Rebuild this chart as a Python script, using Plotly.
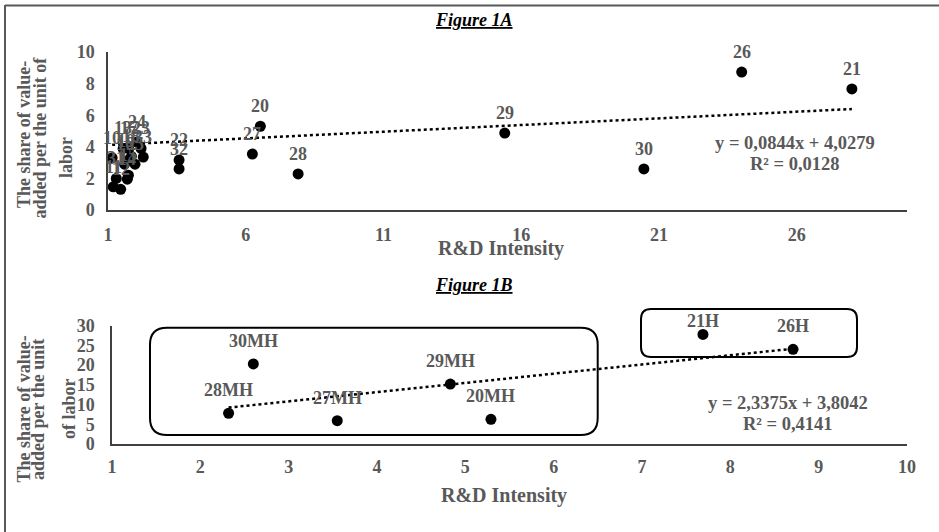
import plotly.graph_objects as go

# ---------------- Data: Figure 1A ----------------
labels_a = ["10", "11", "12", "13", "14", "15", "16", "17", "18", "19", "23", "24", "25", "31", "33",
            "20", "21", "22", "26", "27", "28", "29", "30", "32"]
rd_a = [1.15, 1.19, 1.46, 1.55, 1.70, 1.74, 1.60, 1.75, 1.85, 1.65, 2.20, 2.05, 1.98, 1.30, 2.28,
        6.53, 28.0, 3.58, 24.0, 6.24, 7.90, 15.4, 20.45, 3.58]
va_a = [3.30, 1.47, 1.31, 3.90, 1.95, 2.20, 2.90, 3.90, 3.40, 3.10, 3.90, 4.30, 2.90, 2.00, 3.35,
        5.30, 7.66, 3.16, 8.73, 3.54, 2.28, 4.87, 2.60, 2.60]
slope_a, intercept_a, r2_a = 0.0844, 4.0279, 0.0128

# ---------------- Data: Figure 1B ----------------
labels_b = ["30MH", "28MH", "27MH", "29MH", "20MH", "21H", "26H"]
rd_b = [2.60, 2.32, 3.55, 4.83, 5.29, 7.69, 8.71]
va_b = [20.3, 7.8, 5.9, 15.2, 6.25, 27.8, 24.0]
slope_b, intercept_b, r2_b = 2.3375, 3.8042, 0.4141

xticks_a = [1, 6, 11, 16, 21, 26]
yticks_a = [0, 2, 4, 6, 8, 10]
xticks_b = [1, 2, 3, 4, 5, 6, 7, 8, 9, 10]
yticks_b = [0, 5, 10, 15, 20, 25, 30]

W, H = 939, 532
FONT = "Liberation Serif"
GRAY = "#595959"


def px(x):
    return x / W


def py(y):
    return 1 - y / H


def fmt(v):
    return f"{v:.4f}".replace(".", ",")


fig = go.Figure()

# trendlines
xa = [min(rd_a), max(rd_a)]
fig.add_trace(go.Scatter(x=xa, y=[slope_a * v + intercept_a for v in xa], mode="lines",
                         line=dict(color="black", width=2.5, dash="dot"),
                         xaxis="x", yaxis="y", hoverinfo="skip"))
xb = [min(rd_b), max(rd_b)]
fig.add_trace(go.Scatter(x=xb, y=[slope_b * v + intercept_b for v in xb], mode="lines",
                         line=dict(color="black", width=2.5, dash="dot"),
                         xaxis="x2", yaxis="y2", hoverinfo="skip"))

# points
fig.add_trace(go.Scatter(x=rd_a, y=va_a, mode="markers", marker=dict(color="black", size=11),
                         xaxis="x", yaxis="y"))
fig.add_trace(go.Scatter(x=rd_b, y=va_b, mode="markers", marker=dict(color="black", size=11),
                         xaxis="x2", yaxis="y2"))

annotations = []
lab_font = dict(family=FONT, size=18, color=GRAY)
for lab, x, y in zip(labels_a, rd_a, va_a):
    annotations.append(dict(x=x, y=y, xref="x", yref="y", text=f"<b>{lab}</b>", showarrow=False,
                            xanchor="center", yanchor="middle", yshift=20, font=lab_font))
for lab, x, y in zip(labels_b, rd_b, va_b):
    annotations.append(dict(x=x, y=y, xref="x2", yref="y2", text=f"<b>{lab}</b>", showarrow=False,
                            xanchor="center", yanchor="middle",
                            yshift=13 if lab == "21H" else 23, font=lab_font))


def paper_text(xx, yy, text, font, angle=0):
    return dict(x=px(xx), y=py(yy), xref="paper", yref="paper", showarrow=False, text=text,
                font=font, xanchor="center", yanchor="middle", textangle=angle)


# titles
title_font = dict(family=FONT, size=18, color="black")
annotations.append(paper_text(474, 20, "<b><i><u>Figure 1A</u></i></b>", title_font))
annotations.append(paper_text(474, 285, "<b><i><u>Figure 1B</u></i></b>", title_font))

# axis titles
ax_font = dict(family=FONT, size=20, color=GRAY)
annotations.append(paper_text(501, 248, "<b>R&D Intensity</b>", ax_font))
annotations.append(paper_text(504, 495, "<b>R&D Intensity</b>", ax_font))
ytitle_font = dict(family=FONT, size=18, color=GRAY)
for txt, xx, yy in [("The share of value-", 24, 135), ("added per the unit of", 39.5, 138), ("labor", 66, 158),
                    ("The share of value-", 23.5, 409), ("added per the unit", 38, 410), ("of labor", 69, 409)]:
    annotations.append(paper_text(xx, yy, f"<b>{txt}</b>", ytitle_font, angle=-90))

# equations
eq_font = dict(family=FONT, size=18.5, color=GRAY)
annotations.append(paper_text(795, 143, f"<b>y = {fmt(slope_a)}x + {fmt(intercept_a)}</b>", eq_font))
annotations.append(paper_text(795, 164, f"<b>R² = {fmt(r2_a)}</b>", eq_font))
annotations.append(paper_text(788, 403, f"<b>y = {fmt(slope_b)}x + {fmt(intercept_b)}</b>", eq_font))
annotations.append(paper_text(788, 424, f"<b>R² = {fmt(r2_b)}</b>", eq_font))


def rounded_rect(l, t, r, b, rad):
    pts = [
        ("M", [(l + rad, t)]),
        ("L", [(r - rad, t)]),
        ("Q", [(r, t), (r, t + rad)]),
        ("L", [(r, b - rad)]),
        ("Q", [(r, b), (r - rad, b)]),
        ("L", [(l + rad, b)]),
        ("Q", [(l, b), (l, b - rad)]),
        ("L", [(l, t + rad)]),
        ("Q", [(l, t), (l + rad, t)]),
    ]
    s = ""
    for cmd, coords in pts:
        s += cmd + " " + " ".join(f"{px(x):.5f},{py(y):.5f}" for x, y in coords) + " "
    return s + "Z"


shapes = [
    dict(type="path", xref="paper", yref="paper", path=rounded_rect(150, 327.7, 597.7, 435, 17),
         line=dict(color="black", width=2)),
    dict(type="path", xref="paper", yref="paper", path=rounded_rect(641, 309, 857, 357, 10),
         line=dict(color="black", width=2)),
    dict(type="line", xref="paper", yref="paper", x0=px(5), x1=1, y0=py(5.5), y1=py(5.5),
         line=dict(color=GRAY, width=2)),
    dict(type="line", xref="paper", yref="paper", x0=px(5), x1=px(5), y0=py(5), y1=0,
         line=dict(color=GRAY, width=2)),
]

tick_font = dict(family=FONT, size=18, color=GRAY)
axis_common = dict(showline=True, linecolor="#404040", linewidth=1.5, showgrid=False, zeroline=False,
                   ticks="", tickfont=tick_font, fixedrange=True, automargin=False)

fig.update_layout(
    template="none",
    width=W, height=H, autosize=False, margin=dict(l=0, r=0, t=0, b=0, pad=0),
    paper_bgcolor="white", plot_bgcolor="white", showlegend=False, hovermode=False,
    xaxis=dict(domain=[px(108), px(907)], range=[1, 30], anchor="y", tickvals=xticks_a,
               ticktext=[f"<b>{v}</b>" for v in xticks_a], ticklabelstandoff=8, **axis_common),
    yaxis=dict(domain=[py(210), py(52)], range=[0, 10], anchor="x", tickvals=yticks_a,
               ticktext=[f"<b>{v}</b>" for v in yticks_a], ticklabelstandoff=8, **axis_common),
    xaxis2=dict(domain=[px(112), px(907)], range=[1, 10], anchor="y2", tickvals=xticks_b,
                ticktext=[f"<b>{v}</b>" for v in xticks_b], ticklabelstandoff=6, **axis_common),
    yaxis2=dict(domain=[py(444), py(325.7)], range=[0, 30], anchor="x2", tickvals=yticks_b,
                ticktext=[f"<b>{v}</b>" for v in yticks_b], ticklabelstandoff=12, **axis_common),
    annotations=annotations,
    shapes=shapes,
)

post = ("document.documentElement.style.margin='0';document.documentElement.style.overflow='hidden';"
        "document.body.style.margin='0';document.body.style.overflow='hidden';")

fig.write_html("out.html", config={"responsive": False, "displayModeBar": False}, post_script=post)
